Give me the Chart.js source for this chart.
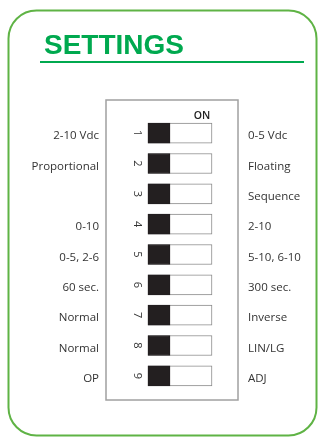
<!DOCTYPE html>
<html>
<head>
<meta charset="utf-8">
<script src="https://cdn.jsdelivr.net/npm/chart.js@4/dist/chart.umd.min.js"></script>
<style>
  html, body { margin: 0; padding: 0; background: #ffffff; }
  canvas { display: block; }
</style>
</head>
<body>
<canvas id="c" width="318" height="437"></canvas>
<script>
// ---- data ----
const titleText = 'SETTINGS';
const onLabel = 'ON';
const switchNumbers = ['1', '2', '3', '4', '5', '6', '7', '8', '9'];
const leftLabels = ['2-10 Vdc', 'Proportional', '', '0-10', '0-5, 2-6', '60 sec.', 'Normal', 'Normal', 'OP'];
const rightLabels = ['0-5 Vdc', 'Floating', 'Sequence', '2-10', '5-10, 6-10', '300 sec.', 'Inverse', 'LIN/LG', 'ADJ'];
// 0 = knob at the left (OFF), 1 = knob at the right (ON)
const switchStates = [0, 0, 0, 0, 0, 0, 0, 0, 0];

// ---- derived (style constants kept in code) ----
const KNOB = 0.344;
const trackData = switchStates.map(() => [0, 1]);
const knobData = switchStates.map(s => [s * (1 - KNOB), s * (1 - KNOB) + KNOB]);

const labelFont = { family: '"Open Sans", "Noto Sans", sans-serif', size: 11.5 };

const decorPlugin = {
  id: 'decor',
  beforeDraw(chart) {
    const ctx = chart.ctx;
    const a = chart.chartArea;
    ctx.save();
    // outer rounded frame
    ctx.strokeStyle = '#5fb345';
    ctx.lineWidth = 2;
    ctx.beginPath();
    ctx.roundRect(8.5, 10.5, 308, 425, 28);
    ctx.stroke();
    // title
    ctx.fillStyle = '#00a94f';
    ctx.font = 'bold 28px "Liberation Sans", Arial, sans-serif';
    ctx.textAlign = 'left';
    ctx.textBaseline = 'alphabetic';
    ctx.fillText(titleText, 44, 54);
    // underline
    ctx.fillStyle = '#00a94f';
    ctx.fillRect(40, 61, 264, 2);
    // inner box
    ctx.strokeStyle = '#a0a0a0';
    ctx.lineWidth = 1.5;
    ctx.strokeRect(a.left, a.top - 18, a.right - a.left, a.bottom - a.top + 27);
    ctx.restore();
  },
  afterDraw(chart) {
    const ctx = chart.ctx;
    const a = chart.chartArea;
    const xs = chart.scales.x;
    const ys = chart.scales.y;
    ctx.save();
    // ON label
    ctx.fillStyle = '#222';
    ctx.font = '600 10.5px "Open Sans", sans-serif';
    ctx.textAlign = 'center';
    ctx.textBaseline = 'middle';
    ctx.fillText(onLabel, xs.getPixelForValue(1) - 10, a.top - 2);
    // rotated switch numbers
    ctx.font = '11px "Open Sans", sans-serif';
    ctx.fillStyle = '#333';
    const nx = xs.getPixelForValue(0) - 11;
    switchNumbers.forEach((n, i) => {
      const y = ys.getPixelForValue(i);
      ctx.save();
      ctx.translate(nx, y);
      ctx.rotate(Math.PI / 2);
      ctx.fillText(n, 0, 0);
      ctx.restore();
    });
    ctx.restore();
  }
};

new Chart(document.getElementById('c'), {
  type: 'bar',
  data: {
    labels: leftLabels,
    datasets: [
      {
        label: 'knob',
        data: knobData,
        backgroundColor: '#231f20',
        borderColor: '#231f20',
        borderWidth: 1,
        borderSkipped: false,
        barThickness: 20,
        grouped: false,
        order: 0
      },
      {
        label: 'track',
        data: trackData,
        backgroundColor: '#ffffff',
        borderColor: '#8a8a8a',
        borderWidth: 1,
        borderSkipped: false,
        barThickness: 20,
        grouped: false,
        order: 1
      }
    ]
  },
  options: {
    indexAxis: 'y',
    responsive: false,
    animation: false,
    devicePixelRatio: 1,
    layout: { padding: { top: 118, bottom: 46, left: 0, right: 0 } },
    plugins: {
      legend: { display: false },
      tooltip: { enabled: false },
      title: { display: false }
    },
    scales: {
      x: {
        type: 'linear',
        display: false,
        min: -0.656,
        max: 1.406
      },
      y: {
        type: 'category',
        position: 'left',
        labels: leftLabels,
        offset: true,
        grid: { display: false, drawTicks: false },
        border: { display: false },
        ticks: { color: '#333', font: labelFont, padding: 7, labelOffset: 3, autoSkip: false },
        afterFit(s) { s.width = 106; }
      },
      y2: {
        type: 'category',
        position: 'right',
        labels: rightLabels,
        offset: true,
        grid: { display: false, drawTicks: false },
        border: { display: false },
        ticks: { color: '#333', font: labelFont, padding: 10, labelOffset: 3, autoSkip: false },
        afterFit(s) { s.width = 80; }
      }
    }
  },
  plugins: [decorPlugin]
});
</script>
</body>
</html>
